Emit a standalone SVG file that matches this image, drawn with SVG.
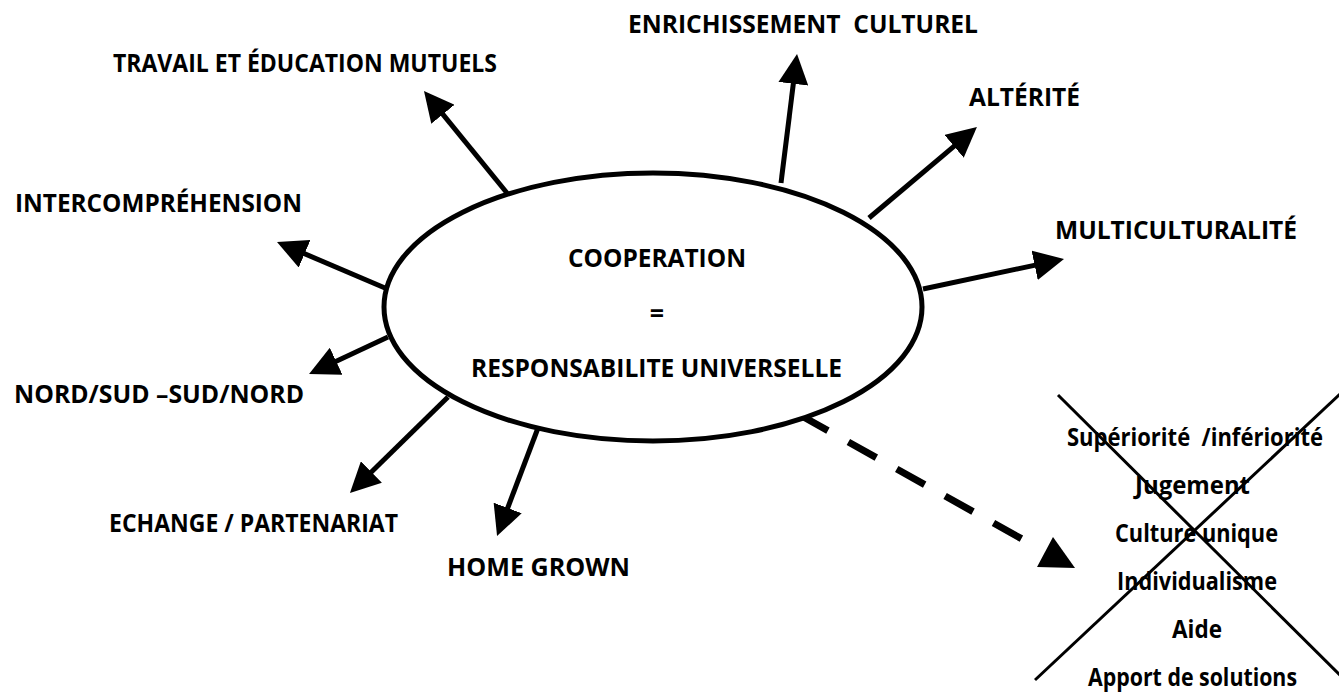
<svg xmlns="http://www.w3.org/2000/svg" width="1339" height="693" viewBox="0 0 1339 693">
<style>
.lbl{font-family:"Open Sans","Liberation Sans",sans-serif;font-weight:700;font-size:25px;fill:#000}
.arr{stroke:#000;stroke-width:5;fill:none}
.dash{stroke:#000;stroke-width:7;fill:none;stroke-dasharray:32 23.4}
.cross{stroke:#000;stroke-width:3;fill:none}
</style>
<defs>
<marker id="head" viewBox="0 0 30 30" markerWidth="30" markerHeight="30" markerUnits="userSpaceOnUse" refX="20" refY="15" orient="auto">
<path d="M0,0 L30,15 L0,30 Z" fill="#000"/>
</marker>
</defs>
<rect width="1339" height="693" fill="#fff"/>
<g id="connectors">
<line class="arr" x1="507" y1="193" x2="430.3" y2="98.8" marker-end="url(#head)"/>
<line class="arr" x1="385" y1="288" x2="286.2" y2="245.9" marker-end="url(#head)"/>
<line class="arr" x1="388" y1="337" x2="318.1" y2="369.8" marker-end="url(#head)"/>
<line class="arr" x1="448" y1="397" x2="357.1" y2="486" marker-end="url(#head)"/>
<line class="arr" x1="538" y1="428" x2="500.6" y2="526.7" marker-end="url(#head)"/>
<line class="arr" x1="781" y1="183" x2="795.8" y2="63.9" marker-end="url(#head)"/>
<line class="arr" x1="869" y1="218" x2="969.3" y2="133.4" marker-end="url(#head)"/>
<line class="arr" x1="923" y1="289" x2="1054.2" y2="261.1" marker-end="url(#head)"/>
<line class="dash" x1="800" y1="415" x2="1022" y2="539"/>
<polygon points="1053,537 1037,567 1075,568" fill="#000"/>
</g>
<g id="center">
<ellipse cx="653" cy="307" rx="269" ry="134" fill="#fff" stroke="#000" stroke-width="5"/>
<text class="lbl" x="568" y="267" textLength="178" lengthAdjust="spacingAndGlyphs">COOPERATION</text>
<text class="lbl" x="657" y="322" text-anchor="middle">=</text>
<text class="lbl" x="471" y="377" textLength="371" lengthAdjust="spacingAndGlyphs">RESPONSABILITE UNIVERSELLE</text>
</g>
<g id="n-enrichissement"><text class="lbl" xml:space="preserve" x="628" y="33" textLength="350" lengthAdjust="spacingAndGlyphs">ENRICHISSEMENT  CULTUREL</text></g>
<g id="n-travail"><text class="lbl" x="113" y="72" textLength="384" lengthAdjust="spacingAndGlyphs">TRAVAIL ET ÉDUCATION MUTUELS</text></g>
<g id="n-alterite"><text class="lbl" x="969" y="106" textLength="111" lengthAdjust="spacingAndGlyphs">ALTÉRITÉ</text></g>
<g id="n-intercomprehension"><text class="lbl" x="15" y="212" textLength="287" lengthAdjust="spacingAndGlyphs">INTERCOMPRÉHENSION</text></g>
<g id="n-multiculturalite"><text class="lbl" x="1055" y="239" textLength="242" lengthAdjust="spacingAndGlyphs">MULTICULTURALITÉ</text></g>
<g id="n-nordsud"><text class="lbl" x="14" y="403" textLength="290" lengthAdjust="spacingAndGlyphs">NORD/SUD –SUD/NORD</text></g>
<g id="n-echange"><text class="lbl" x="109" y="532" textLength="289" lengthAdjust="spacingAndGlyphs">ECHANGE / PARTENARIAT</text></g>
<g id="n-homegrown"><text class="lbl" x="447" y="576" textLength="183" lengthAdjust="spacingAndGlyphs">HOME GROWN</text></g>
<g id="n-rejected">
<text class="lbl" xml:space="preserve" x="1067" y="446" textLength="256" lengthAdjust="spacingAndGlyphs">Supériorité  /infériorité</text>
<text class="lbl" x="1135" y="494" textLength="115" lengthAdjust="spacingAndGlyphs">Jugement</text>
<text class="lbl" x="1115" y="542" textLength="163" lengthAdjust="spacingAndGlyphs">Culture unique</text>
<text class="lbl" x="1117" y="590" textLength="160" lengthAdjust="spacingAndGlyphs">Individualisme</text>
<text class="lbl" x="1172" y="638" textLength="50" lengthAdjust="spacingAndGlyphs">Aide</text>
<text class="lbl" x="1088" y="686" textLength="209" lengthAdjust="spacingAndGlyphs">Apport de solutions</text>
<line class="cross" x1="1058" y1="395" x2="1343" y2="678"/>
<line class="cross" x1="1035" y1="680" x2="1340" y2="394"/>
</g>
</svg>
